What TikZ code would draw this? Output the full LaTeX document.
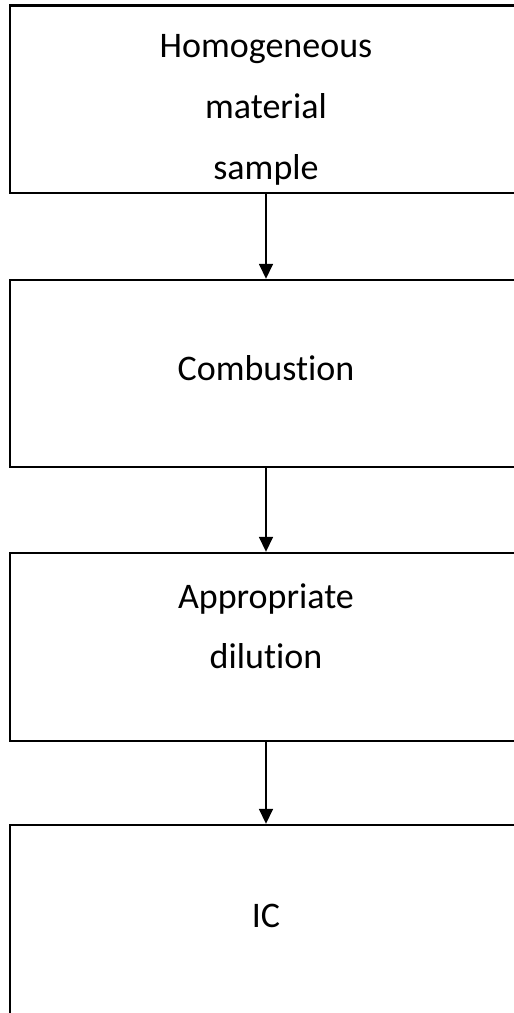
\documentclass[tikz,border=0pt]{standalone}
\usepackage{fontspec}
\setmainfont{Carlito}[Ligatures=NoCommon]
\usetikzlibrary{arrows.meta}
\begin{document}
\begin{tikzpicture}[x=1pt,y=-1pt,
  stagebox/.style={draw=black,line width=2.4pt,rectangle,minimum width=512pt,inner sep=0pt},
  stagetext/.style={font=\fontsize{36}{36}\selectfont,anchor=base,inner sep=0pt},
  flow/.style={line width=1.6pt,-{Triangle[width=14pt,length=15pt]}}]
\useasboundingbox (0,0) rectangle (514,1013);
% process stages (they run past the right and bottom page edges)
\node[stagebox,minimum height=187.5pt] (b1) at (266,99.25) {};
\node[stagebox,minimum height=187pt] (b2) at (266,373.5) {};
\node[stagebox,minimum height=188pt] (b3) at (266,647) {};
\node[stagebox,minimum height=220pt] (b4) at (266,935) {};
% labels
\node[stagetext] (t1a) at (266,57) {Homogeneous};
\node[stagetext] (t1b) at (266,118) {material};
\node[stagetext] (t1c) at (266,179) {sample};
\node[stagetext] (t2) at (266,380) {Combustion};
\node[stagetext] (t3a) at (266,608) {Appropriate};
\node[stagetext] (t3b) at (266,668) {dilution};
\node[stagetext] (t4) at (266,927) {IC};
% connectors
\draw[flow] (b1.south) -- (b2.north);
\draw[flow] (b2.south) -- (b3.north);
\draw[flow] (b3.south) -- (b4.north);
\end{tikzpicture}
\end{document}
